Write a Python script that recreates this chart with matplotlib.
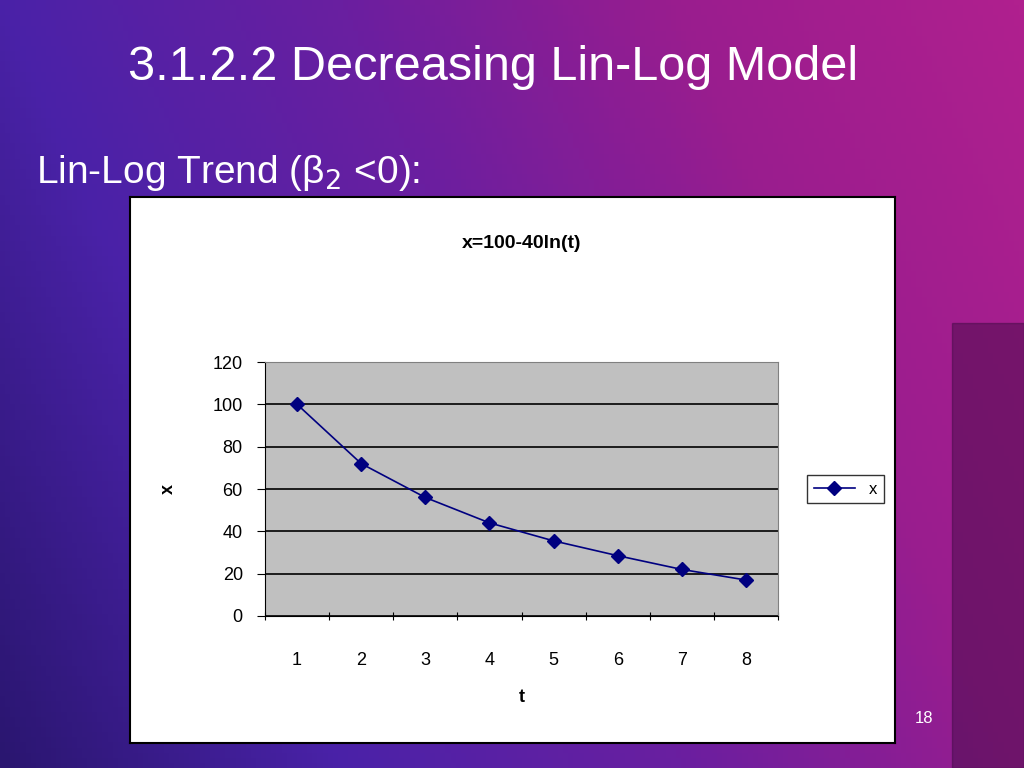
import numpy as np
import matplotlib
matplotlib.use("Agg")
import matplotlib.pyplot as plt
from matplotlib.patches import Rectangle
from matplotlib.colors import LinearSegmentedColormap

t_labels = ["1", "2", "3", "4", "5", "6", "7", "8"]
x_values = [100, 72, 56, 44, 35.5, 28.5, 22, 17]
y_ticks = [0, 20, 40, 60, 80, 100, 120]

fig = plt.figure(figsize=(10.24, 7.68), dpi=100)

# background gradient
bg = fig.add_axes([0, 0, 1, 1])
bg.set_axis_off()
xx, yy = np.meshgrid(np.linspace(0, 1, 200), np.linspace(0, 1, 150))
val = np.clip(0.75 * xx + 0.25 * (1 - yy), 0, 1)
cmap = LinearSegmentedColormap.from_list("bg", ["#2a1670", "#4a22a8", "#6a1fa0", "#9a1d8e", "#b0208e"])
bg.imshow(val, cmap=cmap, extent=[0, 1, 0, 1], aspect="auto", origin="upper")
bg.add_patch(Rectangle((0.93, 0), 0.07, 0.58, color="#3a0a40", alpha=0.45))
bg.set_xlim(0, 1); bg.set_ylim(0, 1)

fig.text(0.125, 0.912, "3.1.2.2 Decreasing Lin-Log Model", color="white", fontsize=35,
         family="Liberation Sans", va="center")
fig.text(0.035, 0.775, "Lin-Log Trend (β$_2$ <0):", color="white", fontsize=28,
         family="Liberation Sans", va="center")
fig.text(0.893, 0.065, "18", color="white", fontsize=12, family="Liberation Sans", va="center")

# white chart box
box = fig.add_axes([130/1024, 1-743/768, 765/1024, 546/768])
box.set_xticks([]); box.set_yticks([])
box.set_facecolor("white")
for s in box.spines.values():
    s.set_color("black"); s.set_linewidth(1.5)

ax = fig.add_axes([265/1024, 1-616/768, 513/1024, 254/768])
ax.set_facecolor("#c0c0c0")
pos = np.arange(len(t_labels))
ax.plot(pos, x_values, color="#000080", marker="D", markersize=7, linewidth=1.2, label="x")
ax.set_xlim(-0.5, len(t_labels) - 0.5)
ax.set_ylim(0, 120)
ax.set_yticks(y_ticks)
ax.set_yticklabels([str(v) for v in y_ticks], fontsize=13, family="Liberation Sans")
ax.yaxis.grid(True, color="black", linewidth=1.2)
ax.set_axisbelow(True)
ax.set_xticks(np.arange(-0.5, len(t_labels)), minor=False)
ax.set_xticklabels([])
ax.set_xticks(pos, minor=True)
ax.set_xticklabels(t_labels, minor=True, fontsize=13, family="Liberation Sans")
ax.tick_params(axis="x", which="minor", length=0, pad=26)
ax.tick_params(axis="x", which="major", length=6, direction="inout")
ax.tick_params(axis="y", length=6, direction="out", pad=10)
for s in ["top", "right"]:
    ax.spines[s].set_color("#808080")
ax.set_xlabel("t", fontsize=13, fontweight="bold", family="Liberation Sans", labelpad=14)
ax.set_ylabel("x", fontsize=13, fontweight="bold", family="Liberation Sans", labelpad=26)
ax.set_title("x=100-40ln(t)", fontsize=14, fontweight="bold", family="Liberation Sans", pad=82)

leg = ax.legend(loc="center left", bbox_to_anchor=(1.04, 0.5), frameon=True, fancybox=False,
                prop={"family": "Liberation Sans", "size": 12}, handlelength=2.5,
                borderpad=0.4)
leg.get_frame().set_edgecolor("black")
leg.get_frame().set_linewidth(1)

fig.savefig("out.png", dpi=100)
